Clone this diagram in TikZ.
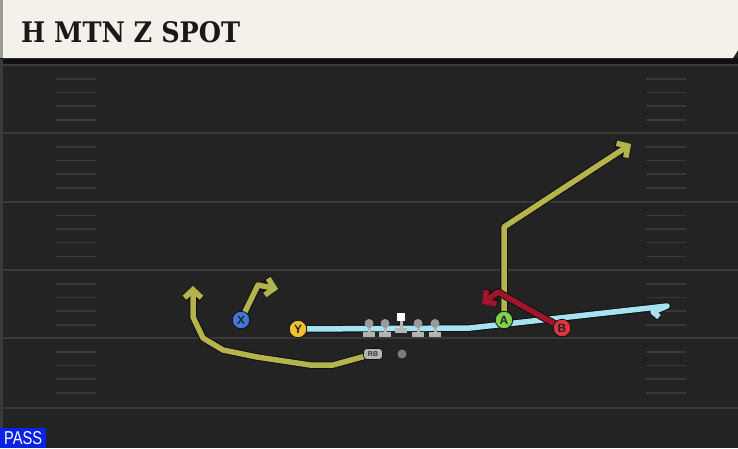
\documentclass[tikz,border=0pt]{standalone}
\usepackage{fontspec}
\setmainfont{Liberation Sans}
\newfontfamily\titlefont{DejaVu Serif}
\usetikzlibrary{arrows.meta}
\pgfdeclarelayer{bg}\pgfdeclarelayer{routes}
\pgfsetlayers{bg,routes,main}
\definecolor{fieldc}{HTML}{232323}
\definecolor{yardc}{HTML}{3A3A3A}
\definecolor{hashc}{HTML}{383838}
\definecolor{bannerc}{HTML}{F4F1EA}
\definecolor{outlinec}{HTML}{101010}
\definecolor{olivec}{HTML}{B4B34C}
\definecolor{skyc}{HTML}{A6E3F0}
\definecolor{redroute}{HTML}{A0142C}
\definecolor{xblue}{HTML}{3F78D8}
\definecolor{yyellow}{HTML}{F2C12E}
\definecolor{agreen}{HTML}{7ED34A}
\definecolor{bred}{HTML}{E0353F}
\definecolor{passblue}{HTML}{0A22E6}
\definecolor{lgray}{HTML}{B4B4B4}
\definecolor{hgray}{HTML}{9A9A9A}
\begin{document}
\begin{tikzpicture}[x=1pt,y=-1pt,
  route/.style={line width=5.5pt, line join=round,
    preaction={draw=outlinec, line width=7.5pt, line join=round}},
  tip/.style={-{Straight Barb[length=8pt,width=17pt]}},
  player/.style={circle, draw=outlinec, line width=0.8pt, minimum size=17.5pt, inner sep=0pt,
    font=\fontsize{12}{12}\selectfont\bfseries, text=black!85},
  yardline/.style={draw=yardc, line width=2pt},
  hashmark/.style={draw=hashc, line width=1.6pt}]
\useasboundingbox (0,0) rectangle (738,448);
\begin{pgfonlayer}{bg}
  \fill[fieldc] (0,0) rectangle (738,448);
  \fill[outlinec] (0,58) rectangle (738,64);
  \fill[yardc] (0,59) rectangle (2.5,448);
  \foreach \L in {65,133,201.5,270,338,408} {
    \draw[yardline] (0,\L) -- (738,\L);
  }
  \foreach \L in {65,133,201.5,270,338} {
    \foreach \o in {14,27.5,41,55} {
      \draw[hashmark] (56,\L+\o) -- (96,\L+\o);
      \draw[hashmark] (646,\L+\o) -- (686,\L+\o);
    }
  }
  \fill[bannerc] (3,0) -- (738,0) -- (738,50) -- (733,58) -- (3,58) -- cycle;
  \fill[hgray] (0,0) rectangle (3,58);
\end{pgfonlayer}
\node[anchor=south west, inner sep=0pt, text=black!90] (title) at (21,43)
  {\resizebox{219pt}{21pt}{\titlefont\bfseries H MTN Z SPOT}};
\node[anchor=north west, fill=passblue, minimum width=46pt, minimum height=20pt, inner sep=0pt, text=white] (pass) at (0,428)
  {\resizebox{38pt}{13pt}{PASS}};
% players
\node[player, fill=xblue] (X) at (241,320) {X};
\node[player, fill=yyellow] (Y) at (298,329) {Y};
\node[player, fill=agreen] (A) at (504,320) {A};
\node[player, fill=bred] (B) at (562,328) {B};
\node[rounded corners=3.5pt, fill=lgray, draw=outlinec, line width=0.6pt, minimum width=19pt, minimum height=11pt, inner sep=0pt,
  font=\fontsize{7}{7}\selectfont\bfseries, text=black!80] (RB) at (373,354) {RB};
\node[circle, fill=hgray!80!black, minimum size=9pt, inner sep=0pt] (QB) at (402,354) {};
% linemen
\foreach \x/\n in {369/LT,385/LG,418/RG,435/RT} {
  \fill[lgray] (\x-1.5,324) rectangle (\x+1.5,333);
  \fill[lgray] (\x-6,332) rectangle (\x+6,337);
  \node[circle, fill=hgray, minimum size=9pt, inner sep=0pt] (\n) at (\x,323.5) {};
}
\fill[lgray] (399.5,321) rectangle (402.5,329);
\fill[lgray] (395,328) rectangle (407,333);
\node[fill=white, minimum size=8.5pt, inner sep=0pt] (C) at (401,317) {};
% route points
\coordinate (Xb) at (258,285); \coordinate (Xt) at (278,289);
\coordinate (Yb) at (470,328); \coordinate (Yt) at (667,306);
\coordinate (Yh1) at (653,312); \coordinate (Yh2) at (659,317);
\coordinate (Ab) at (504,227); \coordinate (At) at (631,144);
\coordinate (Bb) at (498,292); \coordinate (Bt) at (482,304);
\coordinate (R1) at (333,365); \coordinate (R2) at (310,365);
\coordinate (R3) at (257,357); \coordinate (R4) at (223,350);
\coordinate (R5) at (203,338); \coordinate (R6) at (193,317);
\coordinate (Rt) at (193,286);
\begin{pgfonlayer}{routes}
  \draw[route, skyc] (Y.center) -- (Yb) -- (Yt) -- (Yh1) -- (Yh2);
  \draw[route, olivec, tip] (A.center) -- (Ab) -- (At);
  \draw[route, redroute, tip] (B.center) -- (Bb) -- (Bt);
  \draw[route, olivec, tip] (X.center) -- (Xb) -- (Xt);
  \draw[route, olivec, tip] (RB.center) -- (R1) -- (R2) -- (R3) -- (R4) -- (R5) -- (R6) -- (Rt);
\end{pgfonlayer}
\end{tikzpicture}
\end{document}
